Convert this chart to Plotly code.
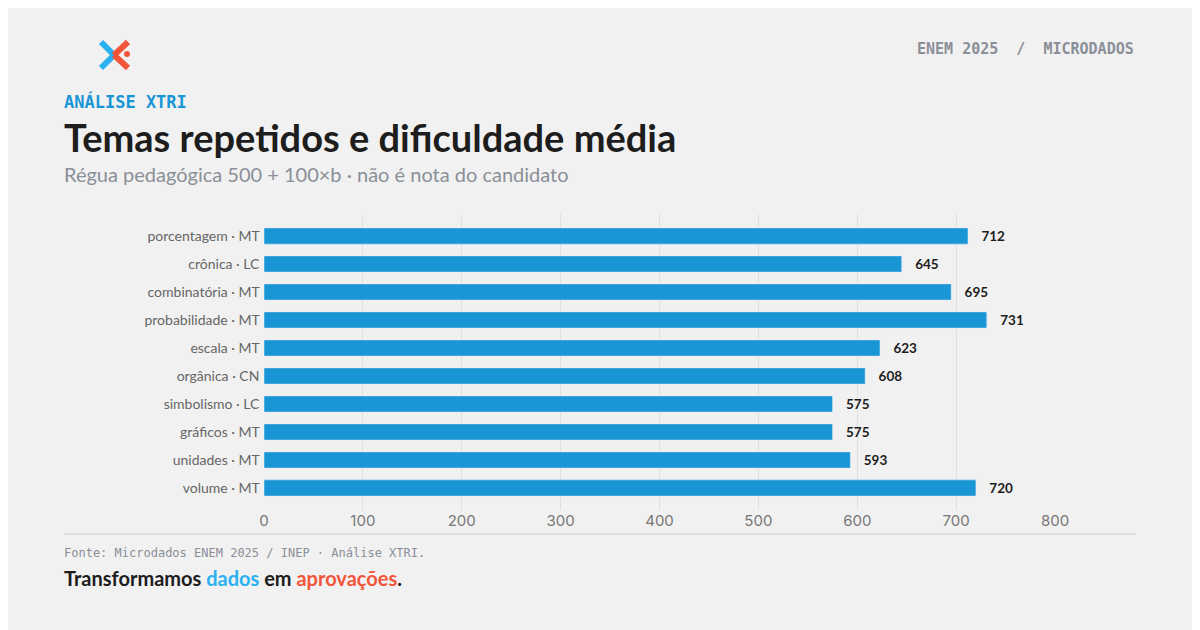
import plotly.graph_objects as go

categories = ["porcentagem · MT", "crônica · LC", "combinatória · MT", "probabilidade · MT",
              "escala · MT", "orgânica · CN", "simbolismo · LC", "gráficos · MT",
              "unidades · MT", "volume · MT"]
values = [712, 645, 695, 731, 623, 608, 575, 575, 593, 720]
x_ticks = [0, 100, 200, 300, 400, 500, 600, 700, 800]

BG = "#f1f1f1"
BLUE = "#1a96d6"
OFF = 8  # page body offset
W, H = 1200 - OFF, 630 - OFF
L, R, T, B = 264 - OFF, 1200 - 1055, 214 - OFF, 630 - 510
PW, PH = W - L - R, H - T - B

fig = go.Figure(go.Bar(
    y=categories, x=values, orientation="h", marker_color=BLUE, width=0.58,
    text=[f"   <b>{v}</b>" for v in values], textposition="outside",
    textfont=dict(family="Lato", size=15, color="#1d1d1d"), cliponaxis=False,
))
fig.update_layout(
    width=W, height=H, paper_bgcolor=BG, plot_bgcolor=BG,
    margin=dict(l=L, r=R, t=T, b=B), showlegend=False,
    xaxis=dict(range=[0, 800], tickvals=x_ticks, showgrid=True, gridcolor="#e0e0e0",
               zeroline=False, tickfont=dict(family="Inter", size=15, color="#777"),
               ticks="", fixedrange=True),
    yaxis=dict(autorange=False, range=[9.786, -0.786], categoryorder="array",
               categoryarray=categories, tickfont=dict(family="Lato", size=14, color="#666"),
               ticks="", ticksuffix=" ", showgrid=False),
)

def px(x): return (x - OFF - L) / PW
def py(y): return 1 - (y - OFF - T) / PH

shapes = [
    dict(type="line", xref="paper", yref="paper", x0=px(64), x1=px(1136), y0=py(534), y1=py(534),
         line=dict(color="#dddddd", width=2)),
    dict(type="line", xref="paper", yref="paper", x0=px(101), y0=py(42), x1=px(114), y1=py(55), line=dict(color="#2bb0f0", width=6)),
    dict(type="line", xref="paper", yref="paper", x0=px(101), y0=py(68), x1=px(114), y1=py(55), line=dict(color="#2bb0f0", width=6)),
    dict(type="line", xref="paper", yref="paper", x0=px(128), y0=py(42), x1=px(114), y1=py(55), line=dict(color="#f2553a", width=6)),
    dict(type="line", xref="paper", yref="paper", x0=px(128), y0=py(68), x1=px(114), y1=py(55), line=dict(color="#f2553a", width=6)),
    dict(type="circle", xref="paper", yref="paper", x0=px(124), x1=px(130), y0=py(51), y1=py(57),
         fillcolor="#f2553a", line=dict(width=0)),
]
fig.update_layout(shapes=shapes)

def ann(x, y, text, size, color, family, xanchor="left", bold=False):
    fig.add_annotation(xref="paper", yref="paper", x=px(x), y=py(y), xanchor=xanchor, yanchor="middle",
                       text=f"<b>{text}</b>" if bold else text, showarrow=False,
                       font=dict(size=size, color=color, family=family))

ann(1136, 49, "ENEM 2025  /  MICRODADOS", 15, "#8a8f98", "DejaVu Sans Mono", xanchor="right", bold=True)
ann(62, 102, "ANÁLISE XTRI", 17, "#1a96d6", "DejaVu Sans Mono", bold=True)
ann(62, 137, "Temas repetidos e dificuldade média", 38, "#1d1d1d", "Lato", bold=True)
ann(62, 174, "Régua pedagógica 500 + 100×b · não é nota do candidato", 20, "#8a8f98", "Lato")
ann(62, 553, "Fonte: Microdados ENEM 2025 / INEP · Análise XTRI.", 12, "#8a8f98", "DejaVu Sans Mono")
ann(62, 578, "Transformamos <span style='color:#2bb0f0'>dados</span> em <span style='color:#f2553a'>aprovações</span>.",
    20, "#1d1d1d", "Lato", bold=True)

fig.write_html("out.html")
